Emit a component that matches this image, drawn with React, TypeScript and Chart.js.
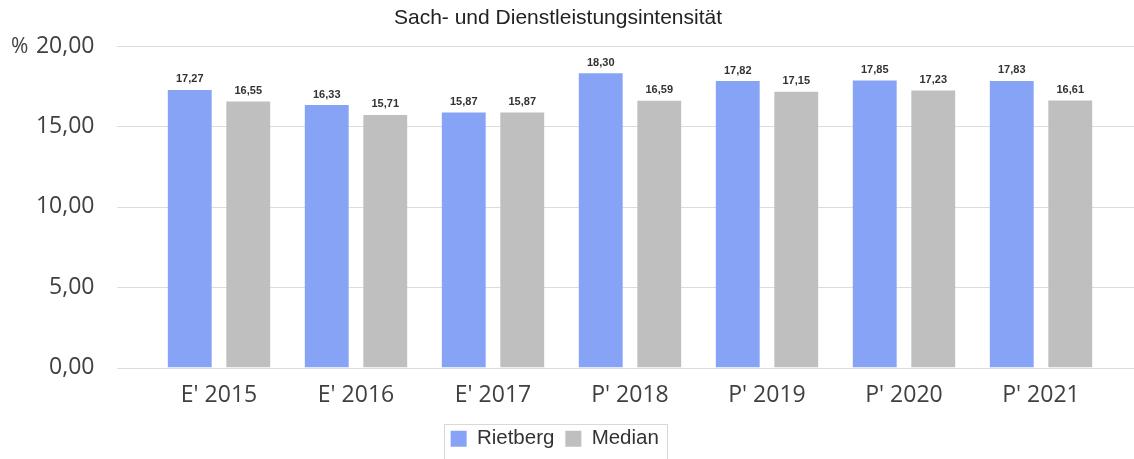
import React, { useEffect, useRef } from "react";
import { Chart, registerables } from "chart.js";

Chart.register(...registerables);

const categories = ["E' 2015", "E' 2016", "E' 2017", "P' 2018", "P' 2019", "P' 2020", "P' 2021"];
const rietberg = [17.27, 16.33, 15.87, 18.3, 17.82, 17.85, 17.83];
const median = [16.55, 15.71, 15.87, 16.59, 17.15, 17.23, 16.61];
const yTicks = [0, 5, 10, 15, 20];
const title = "Sach- und Dienstleistungsintensität";
const unit = "%";

const fmt = (v: number) => v.toFixed(2).replace(".", ",");

const gridPlugin = {
  id: "customGrid",
  beforeDatasetsDraw(chart: any) {
    const { ctx, scales } = chart;
    const y = scales.y;
    ctx.save();
    ctx.strokeStyle = "#dcdcdc";
    ctx.lineWidth = 1;
    yTicks.forEach((t) => {
      const py = Math.round(y.getPixelForValue(t)) + 0.5;
      ctx.beginPath();
      ctx.moveTo(117, py);
      ctx.lineTo(chart.width, py);
      ctx.stroke();
    });
    ctx.restore();
  },
};

const labelPlugin = {
  id: "valueLabels",
  afterDatasetsDraw(chart: any) {
    const { ctx } = chart;
    ctx.save();
    ctx.font = "bold 11px 'Liberation Sans', Arial, sans-serif";
    ctx.fillStyle = "#333333";
    ctx.textAlign = "center";
    ctx.textBaseline = "bottom";
    chart.data.datasets.forEach((ds: any, i: number) => {
      const meta = chart.getDatasetMeta(i);
      meta.data.forEach((bar: any, j: number) => {
        ctx.fillText(fmt(ds.data[j]), bar.x, bar.y - 5);
      });
    });
    ctx.font = "21px 'Open Sans', sans-serif";
    ctx.fillStyle = "#444444";
    ctx.textAlign = "left";
    ctx.textBaseline = "middle";
    ctx.fillText(unit, 11, chart.scales.y.getPixelForValue(20) + 1);
    ctx.font = "21px 'Liberation Sans', Arial, sans-serif";
    ctx.fillStyle = "#222222";
    ctx.textAlign = "center";
    ctx.fillText(title, 558, 18);
    ctx.restore();
  },
  afterDraw(chart: any) {
    const lg = chart.legend;
    if (!lg || !lg.legendHitBoxes || !lg.legendHitBoxes.length) return;
    const { ctx } = chart;
    const boxes = lg.legendHitBoxes;
    const left = Math.min(...boxes.map((b: any) => b.left)) - 7;
    const right = Math.max(...boxes.map((b: any) => b.left + b.width)) + 8;
    ctx.save();
    ctx.strokeStyle = "#d8d8d8";
    ctx.lineWidth = 1;
    ctx.strokeRect(Math.round(left) + 0.5, 424.5, Math.round(right - left), 40);
    ctx.restore();
  },
};

export default function App() {
  const ref = useRef<HTMLCanvasElement>(null);
  useEffect(() => {
    document.body.style.margin = "0";
    const chart = new Chart(ref.current!, {
      type: "bar",
      data: {
        labels: categories,
        datasets: [
          {
            label: "Rietberg",
            data: rietberg,
            backgroundColor: "#87a3f6",
            categoryPercentage: 0.854,
            barPercentage: 0.75,
          },
          {
            label: "Median",
            data: median,
            backgroundColor: "#bfbfbf",
            categoryPercentage: 0.854,
            barPercentage: 0.75,
          },
        ],
      },
      options: {
        animation: false,
        responsive: true,
        maintainAspectRatio: false,
        layout: { padding: { left: 0, right: 24.5, top: 46, bottom: 0 } },
        plugins: {
          title: { display: false },
          legend: {
            position: "bottom",
            labels: {
              font: { family: "'Liberation Sans', Arial, sans-serif", size: 20.5 },
              color: "#333333",
              boxWidth: 16,
              boxHeight: 16,
              padding: 11,
            },
          },
          tooltip: { enabled: false },
        },
        scales: {
          x: {
            grid: { display: false },
            border: { display: false },
            afterFit(scale: any) {
              scale.height = 50;
            },
            ticks: {
              font: { family: "'Open Sans', sans-serif", size: 23 },
              color: "#404040",
              padding: 6,
              maxRotation: 0,
            },
          },
          y: {
            min: 0,
            max: 20,
            afterFit(scale: any) {
              scale.width = 150.5;
              scale.paddingTop = 0;
              scale.paddingBottom = 0;
            },
            afterBuildTicks(scale: any) {
              scale.ticks = yTicks.map((v) => ({ value: v }));
            },
            grid: { display: false },
            border: { display: false },
            ticks: {
              font: { family: "'Open Sans', sans-serif", size: 23 },
              color: "#404040",
              padding: 48,
              callback: (v: any) => fmt(Number(v)),
            },
          },
        },
      },
      plugins: [gridPlugin, labelPlugin],
    });
    return () => chart.destroy();
  }, []);
  return (
    <div style={{ width: 1134, height: 459, position: "relative" }}>
      <canvas ref={ref} />
    </div>
  );
}
